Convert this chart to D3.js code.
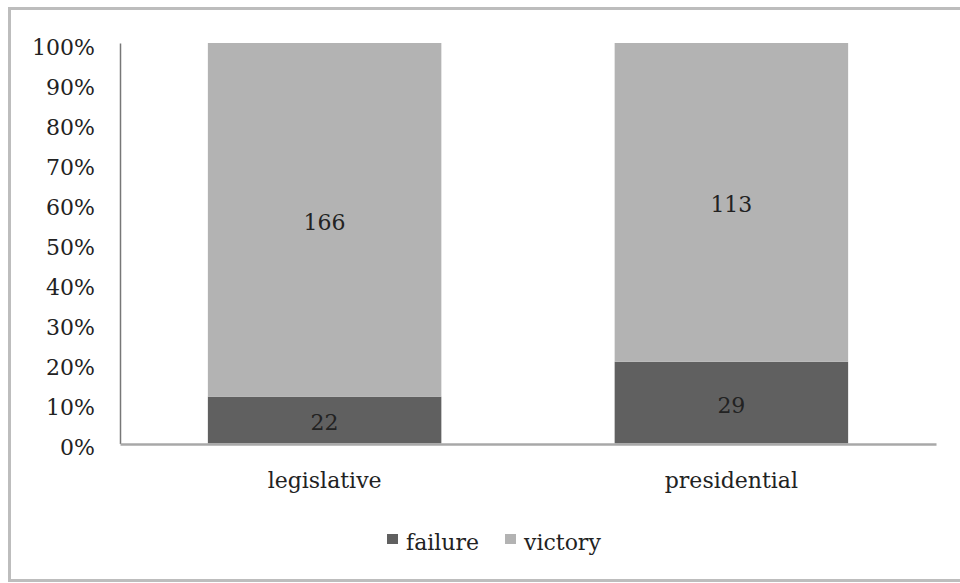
<!DOCTYPE html>
<html>
<head>
<meta charset="utf-8">
<script src="https://cdn.jsdelivr.net/npm/d3@7"></script>
<style>
  body { margin: 0; background: #fff; }
  text { font-family: "DejaVu Serif", serif; fill: #222; }
</style>
</head>
<body>
<svg id="chart" width="960" height="583"></svg>
<script>
// chart data
const categories = ['legislative', 'presidential'];
const seriesNames = ['failure', 'victory'];
const failure = [22, 29];
const victory = [166, 113];
const tickValues = [0, 0.1, 0.2, 0.3, 0.4, 0.5, 0.6, 0.7, 0.8, 0.9, 1];
const colors = ['#606060', '#b3b3b3'];

const width = 960;
const height = 583;
const margin = { top: 43, right: 24, bottom: 139, left: 120 };
const fontSize = 22;

const svg = d3.select('#chart');

// outer frame
svg.append('rect')
  .attr('x', 9.5)
  .attr('y', 8.5)
  .attr('width', 970)
  .attr('height', 572)
  .attr('fill', '#fff')
  .attr('stroke', '#bdbdbd')
  .attr('stroke-width', 3);

const rows = categories.map((c, i) => ({
  category: c,
  failure: failure[i],
  victory: victory[i],
}));

const stack = d3.stack()
  .keys(seriesNames)
  .offset(d3.stackOffsetExpand);
const series = stack(rows);

const x = d3.scaleBand()
  .domain(categories)
  .range([margin.left, width - margin.right])
  .paddingInner(0.426)
  .paddingOuter(0.216);

const y = d3.scaleLinear()
  .domain([0, 1])
  .range([height - margin.bottom - 0.5, margin.top]);

// bars
const groups = svg.selectAll('.series')
  .data(series)
  .enter()
  .append('g')
  .attr('fill', (d, i) => colors[i]);

groups.selectAll('rect')
  .data((d) => d)
  .enter()
  .append('rect')
  .attr('x', (d) => x(d.data.category))
  .attr('y', (d) => y(d[1]))
  .attr('width', x.bandwidth())
  .attr('height', (d) => y(d[0]) - y(d[1]));

// value labels
groups.each(function (s) {
  d3.select(this).selectAll('text')
    .data(s)
    .enter()
    .append('text')
    .attr('x', (d) => x(d.data.category) + x.bandwidth() / 2)
    .attr('y', (d) => (y(d[0]) + y(d[1])) / 2 + 4)
    .attr('text-anchor', 'middle')
    .attr('dominant-baseline', 'middle')
    .attr('font-size', fontSize)
    .text((d) => d.data[s.key]);
});

// y axis
const yAxis = svg.append('g')
  .attr('transform', `translate(${margin.left},0)`)
  .call(d3.axisLeft(y).tickValues(tickValues).tickFormat(d3.format('.0%')).tickSize(0).tickPadding(25));
yAxis.select('.domain').attr('stroke', '#777').attr('stroke-width', 1.5);
yAxis.selectAll('text')
  .attr('font-size', fontSize)
  .attr('font-family', '"DejaVu Serif", serif')
  .attr('fill', '#222')
  .attr('dy', '0.5em');

// x axis
const xAxis = svg.append('g')
  .attr('transform', `translate(0,${height - margin.bottom})`)
  .call(d3.axisBottom(x).tickSize(0).tickPadding(28));
xAxis.select('.domain').attr('stroke', '#a8a8a8').attr('stroke-width', 2.5);
xAxis.selectAll('text')
  .attr('font-size', fontSize)
  .attr('font-family', '"DejaVu Serif", serif')
  .attr('fill', '#222');

// legend
const legendX = [387, 505];
const legend = svg.selectAll('.legend')
  .data(seriesNames)
  .enter()
  .append('g')
  .attr('transform', (d, i) => `translate(${legendX[i]},534)`);
legend.append('rect')
  .attr('width', 11)
  .attr('height', 10)
  .attr('fill', (d, i) => colors[i]);
legend.append('text')
  .attr('x', 19)
  .attr('y', 16)
  .attr('font-size', fontSize)
  .text((d) => d);
</script>
</body>
</html>
